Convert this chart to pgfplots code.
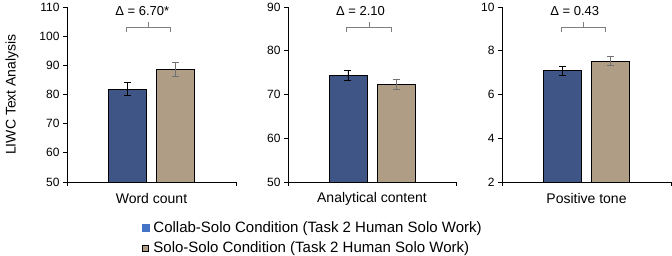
\documentclass[border=0pt]{standalone}
\usepackage{fontspec}
\setmainfont{Liberation Sans}
\usepackage{pgfplots}
\pgfplotsset{compat=1.18}
\definecolor{barblue}{HTML}{3E5585}
\definecolor{bartan}{HTML}{B09D86}
\definecolor{legblue}{HTML}{4472C4}
\definecolor{brk}{HTML}{7F7F7F}
\pgfplotsset{
  panel/.style={
    scale only axis, width=169pt, height=175pt,
    anchor=south west,
    xmin=0, xmax=1,
    axis lines*=left,
    axis line style={black, line width=0.7pt},
    tick align=outside,
    major tick length=4pt,
    tick style={black, line width=0.7pt},
    xtick={0,1}, xticklabels={},
    /pgf/number format/assume math mode=true,
    yticklabel style={font=\fontsize{12}{14}\selectfont},
    xlabel style={font=\fontsize{14}{16}\selectfont, at={(axis description cs:0.5,-0.097)}, anchor=center},
    clip mode=individual,
  },
  bl/.style={ybar, bar width=38pt, bar shift=0pt, fill=barblue, draw=black, line width=0.6pt,
    error bars/.cd, y dir=both, y explicit,
    error bar style={black, line width=0.8pt},
    error mark options={rotate=90, mark size=3.5pt, black, line width=0.8pt},
    /pgfplots/.cd},
  tn/.style={ybar, bar width=38pt, bar shift=0pt, fill=bartan, draw=black, line width=0.6pt,
    error bars/.cd, y dir=both, y explicit,
    error bar style={brk!90!black, line width=0.8pt},
    error mark options={rotate=90, mark size=3.5pt, brk!90!black, line width=0.8pt},
    /pgfplots/.cd},
}
\newcommand{\bracket}[1]{%
  \draw[brk, line width=0.6pt] (rel axis cs:0.349,0.857) -- (rel axis cs:0.349,0.886) -- (rel axis cs:0.614,0.886) -- (rel axis cs:0.614,0.857);
  \draw[brk, line width=0.6pt] (rel axis cs:0.482,0.886) -- (rel axis cs:0.482,0.914);
  \node[anchor=west, inner sep=0pt, font=\fontsize{13}{15}\selectfont] at (rel axis cs:0.285,0.975) {#1};
}
\begin{document}
\begin{tikzpicture}
\path[use as bounding box] (0,0) rectangle (672pt,256pt);
% Panel 1
\begin{axis}[panel, at={(67pt,74pt)},
  ymin=50, ymax=110, ytick={50,60,...,110},
  xlabel={Word count},
  ylabel={LIWC Text Analysis},
  ylabel style={font=\fontsize{14}{16}\selectfont, at={(axis description cs:-0.325,0.5)}, anchor=center},
  legend style={at={(axis description cs:0.443,-0.213)}, anchor=north west, draw=none, fill=none,
    font=\fontsize{15}{17}\selectfont, nodes={font=\fontsize{15}{17}\selectfont},
    row sep=4pt, inner sep=0pt,
    /tikz/every odd column/.style={column sep=2.5pt}},
  legend cell align=left,
]
\addlegendimage{legend image code/.code={\fill[legblue] (0pt,-3.2pt) rectangle (6.4pt,3.2pt);}}
\addlegendentry{Collab-Solo Condition (Task 2 Human Solo Work)}
\addlegendimage{legend image code/.code={\filldraw[fill=bartan, draw=black, line width=0.6pt] (0pt,-3pt) rectangle (6pt,3pt);}}
\addlegendentry{Solo-Solo Condition (Task 2 Human Solo Work)}
\addplot[forget plot, bl] coordinates {(0.357,81.9) +- (0,2.3)};
\addplot[forget plot, tn] coordinates {(0.643,88.5) +- (0,2.4)};
\bracket{Δ = 6.70*}
\end{axis}
% Panel 2
\begin{axis}[panel, at={(288pt,74pt)}, width=168pt,
  ymin=50, ymax=90, ytick={50,60,...,90},
  xlabel={Analytical content},
]
\addplot[bl] coordinates {(0.357,74.4) +- (0,1.1)};
\addplot[tn] coordinates {(0.643,72.3) +- (0,1.1)};
\bracket{Δ = 2.10}
\end{axis}
% Panel 3
\begin{axis}[panel, at={(502pt,74pt)},
  ymin=2, ymax=10, ytick={2,4,...,10},
  xlabel={Positive tone},
]
\addplot[bl] coordinates {(0.357,7.09) +- (0,0.21)};
\addplot[tn] coordinates {(0.643,7.53) +- (0,0.21)};
\bracket{Δ = 0.43}
\end{axis}
\end{tikzpicture}
\end{document}
